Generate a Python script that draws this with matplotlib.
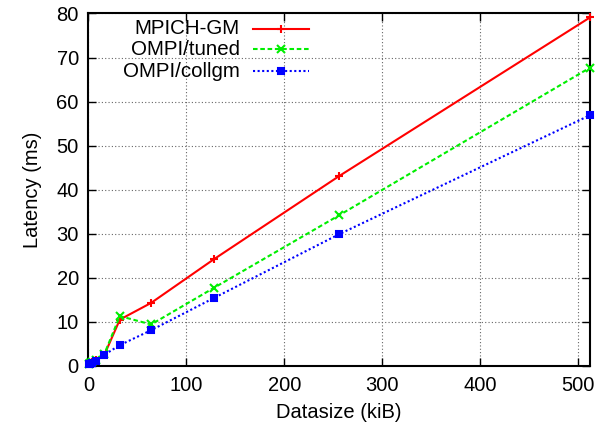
import matplotlib
matplotlib.use("Agg")
import matplotlib.pyplot as plt
from matplotlib.lines import Line2D

plt.rcParams['font.family'] = ['Liberation Sans', 'DejaVu Sans']

datasize = [1, 2, 4, 8, 16, 32, 64, 128, 256, 512]
mpich_gm = [0.5, 0.6, 0.8, 1.3, 2.4, 10.5, 14.3, 24.2, 43.1, 79.1]
ompi_tuned = [0.5, 0.6, 0.8, 1.4, 2.6, 11.3, 9.4, 17.7, 34.2, 67.7]
ompi_collgm = [0.4, 0.5, 0.7, 1.2, 2.5, 4.7, 8.1, 15.4, 29.9, 56.9]

labels = ["MPICH-GM", "OMPI/tuned", "OMPI/collgm"]
colors = ["#ff0000", "#00ee00", "#0000ff"]
styles = ["-", (0, (2.2, 1.3)), (0, (1, 1.2))]
markers = ["+", "x", "s"]
series = [mpich_gm, ompi_tuned, ompi_collgm]

xticks = [0, 100, 200, 300, 400, 500]
yticks = [0, 10, 20, 30, 40, 50, 60, 70, 80]

LW = 1.5

fig = plt.figure(figsize=(5.99, 4.34), dpi=100)
ax = fig.add_axes([0.1477, 0.157, 0.8373, 0.812])

for ys, c, ls, m in zip(series, colors, styles, markers):
    ax.plot(datasize, ys, color=c, linestyle=ls, linewidth=LW,
            marker=m, markersize=5 if m == "s" else 6, markeredgewidth=1.5,
            markerfacecolor=c, markeredgecolor=c, clip_on=False, zorder=3)

ax.set_xlim(0, 512)
ax.set_ylim(0, 80)
ax.set_xticks(xticks)
ax.set_yticks(yticks)
ax.tick_params(direction='in', length=6, width=1, top=True, right=True,
               labelsize=14.5, pad=7)
ax.grid(True, color='0.4', linestyle=(0, (1, 2)), linewidth=0.8)
for sp in ax.spines.values():
    sp.set_linewidth(1.5)

ax.set_xlabel("Datasize (kiB)", fontsize=14.5, labelpad=6)
ax.set_ylabel("Latency (ms)", fontsize=14.5, labelpad=10)

# gnuplot-style key: right-aligned text with sample to its right
def fx(px):
    return (px - 88.5) / (590 - 88.5)
def fy(py):
    return (365.5 - py) / (365.5 - 13.5)
rows = [29, 49.3, 71]
for lab, c, ls, m, py in zip(labels, colors, styles, markers, rows):
    ax.text(fx(240), fy(py), lab, ha='right', va='center', fontsize=14.8,
            transform=ax.transAxes)
    ax.add_line(Line2D([fx(253), fx(309)], [fy(py), fy(py)], color=c,
                       linestyle=ls, linewidth=LW, transform=ax.transAxes))
    ax.add_line(Line2D([fx(281)], [fy(py)], color=c, marker=m,
                       markersize=5 if m == "s" else 6, markeredgewidth=1.5,
                       markerfacecolor=c, markeredgecolor=c,
                       transform=ax.transAxes))

fig.savefig("out.png", dpi=100, facecolor='white')
